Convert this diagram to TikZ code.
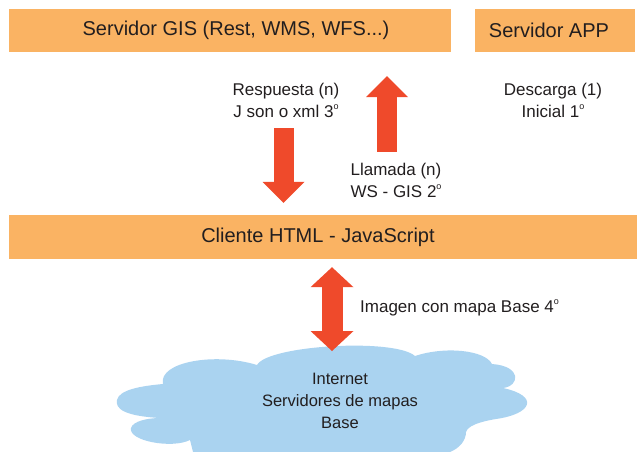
\documentclass[tikz,border=0pt]{standalone}
\usepackage{fontspec}
\setmainfont{Liberation Sans}
\usetikzlibrary{arrows.meta}
\definecolor{naranja}{HTML}{FAB363}
\definecolor{rojo}{HTML}{EF4A2B}
\definecolor{celeste}{HTML}{AAD3F0}
\definecolor{tinta}{HTML}{221E1F}
\newcommand{\ordo}{\raisebox{0.45em}{\fontsize{9}{9}\selectfont o}}
\tikzset{
	caja/.style={fill=naranja, draw=none, minimum height=43pt, inner sep=0pt,
			text=tinta, font=\fontsize{20}{24}\selectfont},
	texto/.style={align=center, text=tinta, inner sep=0pt,
			font=\fontsize{17}{22}\selectfont},
	flecha/.style={draw=rojo, line width=20pt,
			-{Triangle[length=21pt,width=42pt,line width=0pt]}},
	doble/.style={draw=rojo, line width=21pt,
			{Triangle[length=20pt,width=43pt,line width=0pt]}-{Triangle[length=20pt,width=43pt,line width=0pt]}}
}

\begin{document}
\begin{tikzpicture}[x=1pt, y=-1pt]
	\useasboundingbox (0,0) rectangle (644,451);

	% Nube de fondo
	\fill[celeste] (117,400)
		.. controls (119,390) and (140,386) .. (163,384)
		.. controls (158,362) and (215,352) .. (257,365)
		.. controls (268,345) and (395,338) .. (415,356)
		.. controls (445,346) and (485,350) .. (492,364)
		.. controls (522,366) and (520,386) .. (503,388)
		.. controls (540,396) and (532,414) .. (496,419)
		.. controls (478,422) and (468,426) .. (466,432)
		.. controls (466,440) and (460,448) .. (450,452)
		-- (450,460) -- (195,460) -- (190,440)
		.. controls (172,449) and (128,441) .. (131,428)
		.. controls (133,421) and (148,418) .. (160,418)
		.. controls (125,416) and (115,409) .. (117,400) -- cycle;

	% Servidores y cliente
	\node[caja, minimum width=442pt] (gis) at (230,30.5) {\hspace*{12pt}Servidor GIS (Rest, WMS, WFS...)};
	\node[caja, minimum width=160pt] (app) at (555,30.5) {Servidor APP\hspace*{12pt}};
	\node[caja, minimum width=628pt, minimum height=44pt] (cliente) at (323,237) {Cliente HTML - JavaScript\hspace*{10pt}};

	% Etiquetas
	\node[texto] (resp) at (286,100) {Respuesta (n)\\J son o xml 3\ordo};
	\node[texto] (llam) at (396,180) {Llamada (n)\\WS - GIS 2\ordo};
	\node[texto] (desc) at (553,100) {Descarga (1)\\Inicial 1\ordo};
	\node[texto, anchor=west] (imagen) at (360,308) {Imagen con mapa Base 4\ordo};
	\node[texto, font=\fontsize{16.5}{22}\selectfont] (nube) at (340,401) {Internet\\Servidores de mapas\\Base};

	% Flechas
	\coordinate (bajada) at (283.5,0);
	\coordinate (subida) at (387,0);
	\coordinate (cima) at (332,351);
	\draw[flecha, shorten <=76pt, shorten >=12pt] (bajada |- gis.south) -- (bajada |- cliente.north);
	\draw[flecha, shorten <=63pt, shorten >=24pt] (subida |- cliente.north) -- (subida |- gis.south);
	\draw[doble, shorten <=8pt] (cima |- cliente.south) -- (cima);

\end{tikzpicture}
\end{document}
